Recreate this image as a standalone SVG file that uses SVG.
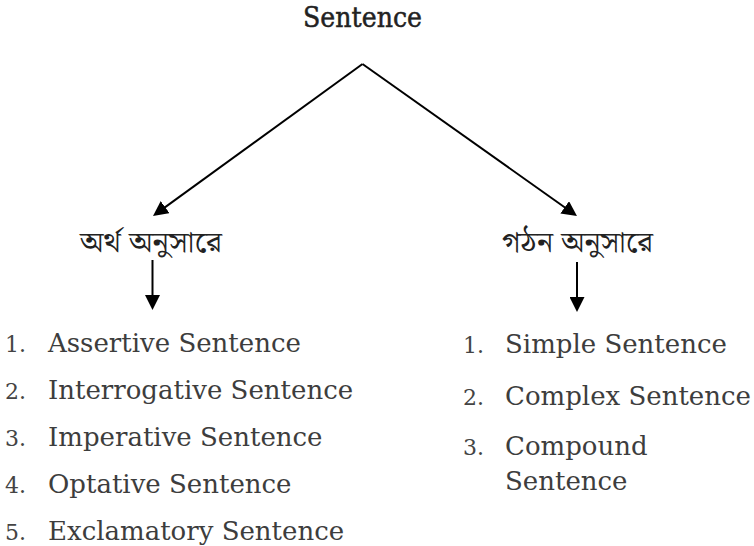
<svg xmlns="http://www.w3.org/2000/svg" width="754" height="546" viewBox="0 0 754 546">
<style>
.title{font-family:"DejaVu Serif","Liberation Serif",serif;font-size:27px;fill:#222;stroke:#222;stroke-width:0.5}
.bn{font-family:"Noto Serif Bengali","Noto Sans Bengali","Lohit Bengali","Noto Sans",sans-serif;font-size:28px;fill:#222}
.num{font-family:"DejaVu Serif","Liberation Serif",serif;font-size:22px;fill:#444}
.item{font-family:"DejaVu Serif","Liberation Serif",serif;font-size:26px;fill:#3d3d3d}
.conn{stroke:#000;stroke-width:2;fill:none}
</style>
<defs>
<marker id="ah" viewBox="0 0 15 15" refX="5" refY="7.5" markerWidth="15" markerHeight="15" markerUnits="userSpaceOnUse" orient="auto">
<path d="M0,0 L15,7.5 L0,15 z" fill="#000"/>
</marker>
</defs>
<rect width="754" height="546" fill="#fff"/>
<g id="connectors">
<line class="conn" x1="362.5" y1="64" x2="161.1" y2="210.1" marker-end="url(#ah)"/>
<line class="conn" x1="362.5" y1="64" x2="568.8" y2="210.2" marker-end="url(#ah)"/>
<line class="conn" x1="152.5" y1="260" x2="152.5" y2="300" marker-end="url(#ah)"/>
<line class="conn" x1="577" y1="262" x2="577" y2="302" marker-end="url(#ah)"/>
</g>
<g id="node-sentence">
<text class="title" x="303" y="26.5" textLength="119" lengthAdjust="spacingAndGlyphs">Sentence</text>
</g>
<g id="node-meaning">
<text class="bn" x="80" y="252" textLength="142" lengthAdjust="spacingAndGlyphs">অর্থ অনুসারে</text>
</g>
<g id="node-structure">
<text class="bn" x="502" y="252" textLength="151" lengthAdjust="spacingAndGlyphs">গঠন অনুসারে</text>
</g>
<g id="list-meaning">
<text class="num" x="5" y="352">1.</text><text class="item" x="48" y="352">Assertive Sentence</text>
<text class="num" x="5" y="399">2.</text><text class="item" x="48" y="399">Interrogative Sentence</text>
<text class="num" x="5" y="446">3.</text><text class="item" x="48" y="446">Imperative Sentence</text>
<text class="num" x="5" y="493">4.</text><text class="item" x="48" y="493">Optative Sentence</text>
<text class="num" x="5" y="540">5.</text><text class="item" x="48" y="540">Exclamatory Sentence</text>
</g>
<g id="list-structure">
<text class="num" x="463" y="353">1.</text><text class="item" x="505" y="353">Simple Sentence</text>
<text class="num" x="463" y="405">2.</text><text class="item" x="505" y="405">Complex Sentence</text>
<text class="num" x="463" y="455">3.</text><text class="item" x="505" y="455">Compound</text>
<text class="item" x="505" y="490">Sentence</text>
</g>
</svg>
